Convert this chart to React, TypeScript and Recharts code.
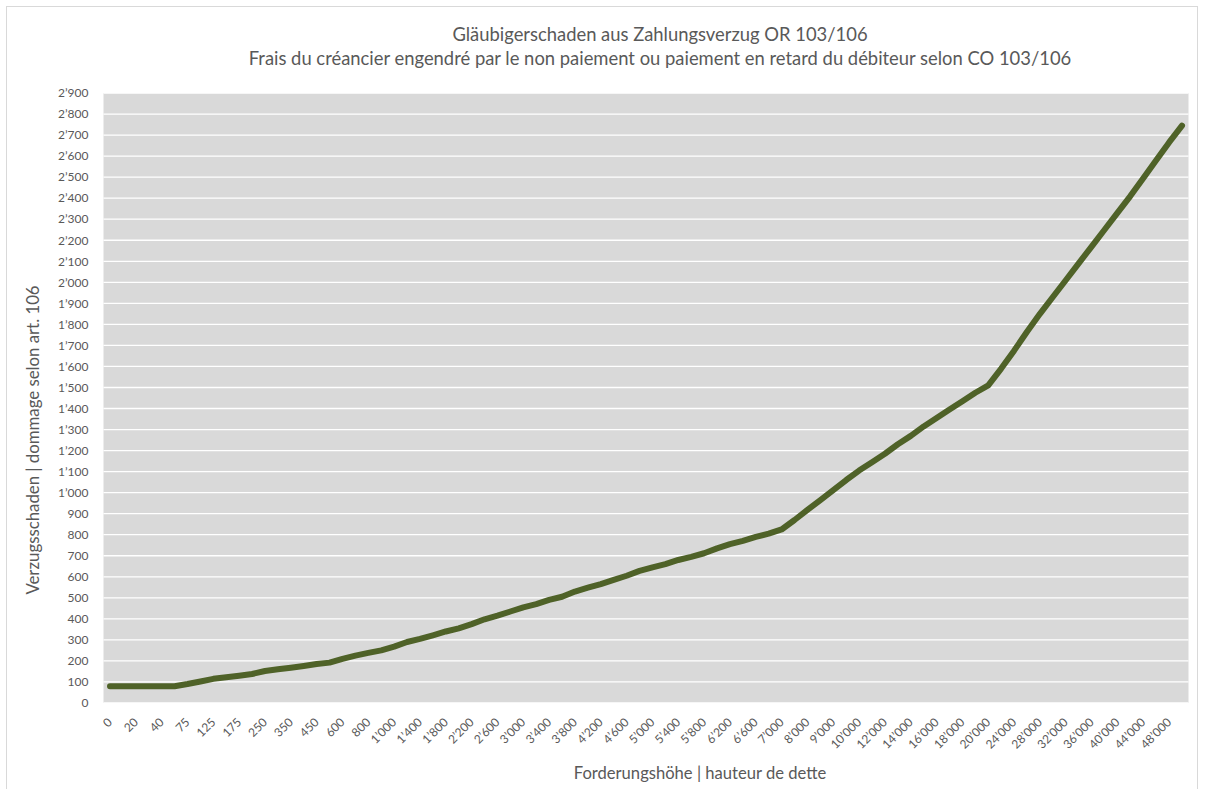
import { LineChart, Line, XAxis, YAxis, CartesianGrid } from 'recharts';

// Forderungshöhe (CHF) — every second one gets a tick label
const amounts = [
    0, 10, 20, 30, 40, 50, 75, 100, 125, 150, 175, 200, 250, 300, 350, 400, 450, 500,
    600, 700, 800, 900, 1000, 1200, 1400, 1600, 1800, 2000, 2200, 2400, 2600, 2800,
    3000, 3200, 3400, 3600, 3800, 4000, 4200, 4400, 4600, 4800, 5000, 5200, 5400,
    5600, 5800, 6000, 6200, 6400, 6600, 6800, 7000, 7500, 8000, 8500, 9000, 9500,
    10000, 11000, 12000, 13000, 14000, 15000, 16000, 17000, 18000, 19000, 20000,
    22000, 24000, 26000, 28000, 30000, 32000, 34000, 36000, 38000, 40000, 42000,
    44000, 46000, 48000, 50000,
];

// Verzugsschaden (CHF)
const damages = [
    80, 80, 80, 80, 80, 80, 90, 102, 115, 122, 130, 138, 152, 160, 168, 176, 185, 192,
    210, 225, 238, 250, 268, 290, 305, 322, 340, 355, 375, 398, 415, 435,
    455, 470, 490, 505, 530, 548, 565, 585, 605, 628, 645, 660, 680,
    695, 712, 735, 755, 771, 790, 805, 825, 870, 918, 965, 1012, 1060,
    1105, 1145, 1185, 1230, 1270, 1315, 1355, 1395, 1435, 1475, 1510,
    1590, 1675, 1765, 1850, 1930, 2010, 2090, 2170, 2250, 2330, 2410,
    2495, 2580, 2665, 2745,
];

const yTicks = [
    0, 100, 200, 300, 400, 500, 600, 700, 800, 900, 1000, 1100, 1200, 1300, 1400,
    1500, 1600, 1700, 1800, 1900, 2000, 2100, 2200, 2300, 2400, 2500, 2600, 2700,
    2800, 2900,
];

const TITLE_DE = 'Gläubigerschaden aus Zahlungsverzug OR 103/106';
const TITLE_FR = 'Frais du créancier engendré par le non paiement ou paiement en retard du débiteur selon CO 103/106';
const X_TITLE = 'Forderungshöhe | hauteur de dette';
const Y_TITLE = 'Verzugsschaden | dommage selon art. 106';

const FONT = 'Lato, "Open Sans", sans-serif';
const GREY = '#595959';

// swiss style thousands separator: 1’000
const fmt = (v: number) => String(v).replace(/\B(?=(\d{3})+(?!\d))/g, '’');

const data = amounts.map((a, i) => ({ amount: fmt(a), damage: damages[i] }));

function SlantTick(props: any) {
    const { x, y, payload } = props;
    const px = x + 3;
    const py = y + 20;
    return (
        <text
            x={px}
            y={py}
            transform={`rotate(-45, ${px}, ${py})`}
            textAnchor="end"
            fontSize={12}
            fontFamily={FONT}
            fill={GREY}
        >
            {payload.value}
        </text>
    );
}

export default function App() {
    return (
        <div style={{ position: 'absolute', left: 6, top: 6, width: 1190, height: 782, border: '1px solid #d9d9d9', background: '#fff', fontFamily: FONT }}>
            <div style={{ position: 'absolute', left: 0, width: 1306, top: 15, textAlign: 'center', color: GREY, fontSize: 18.4, lineHeight: '24px' }}>
                <div>{TITLE_DE}</div>
                <div>{TITLE_FR}</div>
            </div>
            <LineChart
                width={1190}
                height={780}
                data={data}
                margin={{ top: 86, right: 8.5, left: 10, bottom: 24 }}
            >
                <CartesianGrid
                    vertical={false}
                    horizontal
                    stroke="#ffffff"
                    strokeWidth={1.3}
                    fill="#d9d9d9"
                    fillOpacity={1}
                />
                <XAxis
                    dataKey="amount"
                    interval={1}
                    height={60}
                    tickSize={0}
                    tickMargin={0}
                    axisLine={false}
                    padding={{ left: 6.5, right: 6.5 }}
                    tick={<SlantTick />}
                />
                <YAxis
                    width={86.5}
                    domain={[0, 2900]}
                    ticks={yTicks}
                    interval={0}
                    tickSize={0}
                    tickMargin={15}
                    axisLine={false}
                    tickFormatter={fmt}
                    tick={{ fill: GREY, fontSize: 12, fontFamily: FONT }}
                />
                <Line
                    type="linear"
                    dataKey="damage"
                    stroke="#4f6228"
                    strokeWidth={6}
                    strokeLinecap="round"
                    strokeLinejoin="round"
                    dot={false}
                    activeDot={false}
                    isAnimationActive={false}
                />
            </LineChart>
            <div style={{ position: 'absolute', left: 0, width: 1386, top: 756, textAlign: 'center', color: GREY, fontSize: 16.6 }}>
                {X_TITLE}
            </div>
            <div style={{ position: 'absolute', left: 25, top: 433, width: 0, height: 0 }}>
                <div style={{ position: 'absolute', transform: 'translate(-50%, -50%) rotate(-90deg)', whiteSpace: 'nowrap', color: GREY, fontSize: 16.8 }}>
                    {Y_TITLE}
                </div>
            </div>
        </div>
    );
}
